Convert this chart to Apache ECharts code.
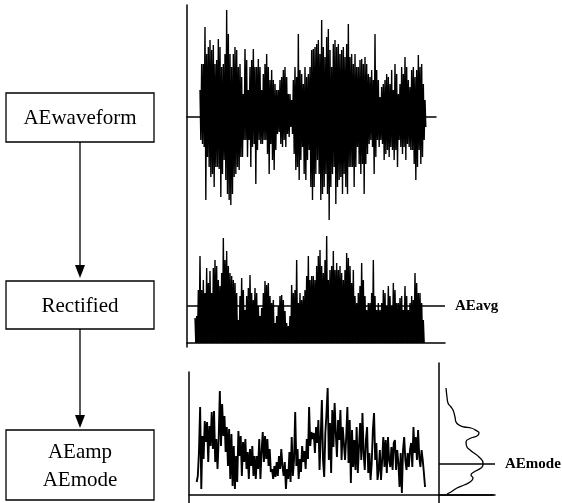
<!DOCTYPE html>
<html>
<head>
<meta charset="utf-8">
<script src="https://cdn.jsdelivr.net/npm/echarts@6/dist/echarts.min.js"></script>
<style>
html, body { margin: 0; background: #fff; }
#chart { width: 562px; height: 503px; }
</style>
</head>
<body>
<div id="chart"></div>
<script>
// raw AE waveform, upper / lower envelope per sample
var waveUpper = [27,53,53,90,63,70,77,67,72,53,57,78,70,50,53,63,107,83,63,50,63,70,67,50,53,40,23,68,57,27,50,57,68,50,50,58,50,27,43,53,63,50,37,47,37,33,27,27,37,40,47,50,40,23,23,17,37,50,40,83,47,43,33,50,40,43,50,
  67,68,70,73,77,63,97,70,60,80,88,67,50,73,77,70,73,63,67,70,60,73,93,60,63,53,63,50,50,57,58,53,60,53,43,40,47,37,83,47,37,20,30,33,37,43,40,33,47,27,53,43,23,33,50,43,60,50,37,30,47,50,40,47,62,50,53,33,17];
var waveLower = [23,27,30,83,40,50,60,57,70,50,50,52,80,57,43,63,77,83,88,77,60,57,50,53,40,40,23,23,40,23,50,30,27,67,33,23,27,27,23,23,37,57,27,43,53,33,17,15,27,30,23,30,17,20,10,17,37,53,50,63,43,30,57,63,43,33,70,
  83,70,57,43,57,83,77,70,57,77,103,70,57,50,87,70,63,60,77,57,70,77,50,50,50,70,50,30,47,57,47,77,47,37,27,23,30,57,40,23,30,23,27,43,37,33,40,30,33,43,33,50,23,30,37,30,43,27,30,33,33,47,63,50,33,47,40,23,10];

// rectified peaks
var rectPeaks = [25,27,53,87,53,63,50,75,60,72,50,75,83,77,63,57,70,105,83,92,77,70,67,63,60,50,23,47,65,53,33,47,55,68,50,43,55,50,37,27,35,50,62,58,60,47,40,43,20,27,37,47,48,43,32,20,17,27,58,50,53,83,40,50,43,47,53,67,87,63,
  67,67,63,77,87,93,77,70,83,107,63,73,77,92,73,80,73,77,70,63,73,90,85,77,60,73,47,40,50,57,80,63,47,33,40,40,50,83,47,33,40,33,40,53,50,37,57,47,37,60,53,40,40,45,47,33,57,47,33,40,47,43,70,60,50,50,40,23];
var aeAvg = 37;

// AE amplitude trace
var ampTrace = [13,19,43,88,6,59,36,74,53,73,33,69,49,83,46,84,33,56,26,56,104,49,91,59,79,43,68,29,66,16,61,9,49,6,39,13,64,39,59,19,53,33,56,26,43,16,46,29,49,19,39,16,39,26,56,16,43,63,33,59,36,56,29,46,23,26,16,29,18,33,19,39,26,46,29,19,33,6,26,16,43,13,58,19,36,83,29,46,16,36,23,49,33,44,26,56,36,88,49,63,56,
  62,42,68,52,75,25,58,95,35,18,62,82,107,35,72,22,85,48,92,62,38,75,55,85,35,68,68,35,58,88,32,75,12,65,28,55,25,68,22,48,72,35,82,42,25,55,68,22,42,15,32,65,82,35,52,15,25,45,15,35,58,28,55,22,58,35,28,48,25,52,55,25,45,32,8,42,2,45,58,35,25,42,28,45,52,28,68,42,58,35,65,38,28,45,35,22,8];

// amplitude distribution
var histCount = [7,8,9,12,14,16,17,20,25,32,38,40,38,32,27,28,31,35,40,44,44,42,35,32,34,31,25,18,12,8];
var histLevel = [107,98,92,88,85,78,73,70,68,67,64,62,59,57,53,48,45,42,38,32,30,27,23,20,17,13,10,7,3,1];
var aeMode = 31;

var boxLabels = ['AEwaveform', 'Rectified', 'AEamp\nAEmode'];

var chart = echarts.init(document.getElementById('chart'));
var serif = 'Liberation Serif';
var black = '#000';

var waveData = [];
waveUpper.forEach(function (v, i) {
  waveData.push([i, v]);
  waveData.push([i + 0.5, -waveLower[i]]);
});
var rectData = [];
rectPeaks.forEach(function (v, i) {
  rectData.push([i, v]);
  rectData.push([i + 0.5, 0]);
});
var ampData = ampTrace.map(function (v, i) { return [i, v]; });
var histData = histCount.map(function (c, i) { return [c, histLevel[i]]; });

function xAx(grid, min, max, show) {
  return {
    type: 'value', gridIndex: grid, min: min, max: max,
    axisLine: {show: show, onZero: true, lineStyle: {color: black, width: 1.5}},
    axisTick: {show: false}, axisLabel: {show: false}, splitLine: {show: false}
  };
}
function yAx(grid, min, max, show) {
  return {
    type: 'value', gridIndex: grid, min: min, max: max,
    axisLine: {show: show, onZero: false, lineStyle: {color: black, width: 1.5}},
    axisTick: {show: false}, axisLabel: {show: false}, splitLine: {show: false}
  };
}

var boxes = [
  {top: 93, h: 49, text: boxLabels[0]},
  {top: 281, h: 48, text: boxLabels[1]},
  {top: 430, h: 70, text: boxLabels[2]}
];
var graphic = [];
boxes.forEach(function (b) {
  graphic.push({
    type: 'rect', shape: {x: 6, y: b.top, width: 148, height: b.h},
    style: {fill: null, stroke: black, lineWidth: 1.3}
  });
  graphic.push({
    type: 'text', x: 80, y: b.top + b.h / 2 + 1,
    style: {text: b.text, fill: black, font: '21px ' + serif, align: 'center',
      verticalAlign: 'middle', lineHeight: 28}
  });
});
[[142, 278], [329, 428]].forEach(function (a) {
  graphic.push({type: 'line', shape: {x1: 80, y1: a[0], x2: 80, y2: a[1] - 10},
    style: {stroke: black, lineWidth: 1.3}});
  graphic.push({type: 'polygon', shape: {points: [[75, a[1] - 13], [85, a[1] - 13], [80, a[1]]]},
    style: {fill: black}});
});

var option = {
  animation: false,
  backgroundColor: '#fff',
  grid: [
    {left: 187, top: 5, width: 249, height: 342, containLabel: false},
    {left: 187, top: 225, width: 258, height: 118, containLabel: false},
    {left: 189, top: 372, width: 304, height: 131, containLabel: false},
    {left: 439, top: 363, width: 56, height: 140, containLabel: false}
  ],
  xAxis: [
    xAx(0, -7.8, 141.6, true),
    xAx(1, -4.8, 150, true),
    xAx(2, -6.6, 255.6, true),
    xAx(3, 0, 56, true)
  ],
  yAxis: [
    yAx(0, -230, 112, true),
    yAx(1, 0, 118, false),
    yAx(2, -8, 123, true),
    yAx(3, -8, 132, true)
  ],
  graphic: graphic,
  series: [
    {
      type: 'line', xAxisIndex: 0, yAxisIndex: 0, data: waveData,
      symbol: 'none', lineStyle: {color: black, width: 1.4},
      areaStyle: {color: black, opacity: 1}
    },
    {
      type: 'line', xAxisIndex: 1, yAxisIndex: 1, data: rectData,
      symbol: 'none', lineStyle: {color: black, width: 1.4},
      areaStyle: {color: black, opacity: 1},
      markLine: {
        silent: true, symbol: ['none', 'none'],
        lineStyle: {color: black, type: 'solid', width: 1.5},
        label: {show: true, position: 'end', formatter: 'AEavg', color: black,
          fontFamily: serif, fontSize: 15, fontWeight: 'bold', distance: 10},
        data: [{yAxis: aeAvg}]
      }
    },
    {
      type: 'line', xAxisIndex: 2, yAxisIndex: 2, data: ampData,
      symbol: 'none', lineStyle: {color: black, width: 1.9}
    },
    {
      type: 'line', xAxisIndex: 3, yAxisIndex: 3, data: histData,
      smooth: true, symbol: 'none', lineStyle: {color: black, width: 1.3},
      markLine: {
        silent: true, symbol: ['none', 'none'],
        lineStyle: {color: black, type: 'solid', width: 1.5},
        label: {show: true, position: 'end', formatter: 'AEmode', color: black,
          fontFamily: serif, fontSize: 15, fontWeight: 'bold', distance: 10},
        data: [{yAxis: aeMode}]
      }
    }
  ]
};
chart.setOption(option);
</script>
</body>
</html>
